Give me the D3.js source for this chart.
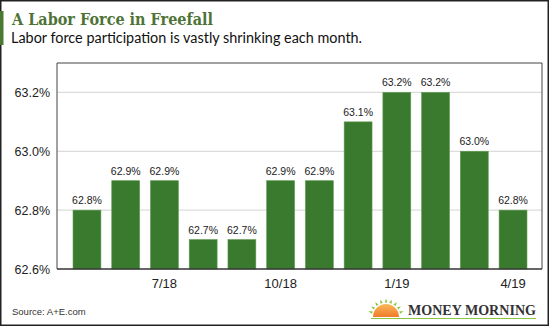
<!DOCTYPE html>
<html><head><meta charset="utf-8">
<script src="https://cdn.jsdelivr.net/npm/d3@7/dist/d3.min.js"></script>
<style>
html,body{margin:0;padding:0;background:#fff;}
svg{display:block;}
</style></head>
<body>
<svg id="c" width="550" height="327"></svg>
<script>
const categories = ["5/18","6/18","7/18","8/18","9/18","10/18","11/18","12/18","1/19","2/19","3/19","4/19"];
const values = [62.8,62.9,62.9,62.7,62.7,62.9,62.9,63.1,63.2,63.2,63.0,62.8];
const tickLabels = ["","","7/18","","","10/18","","","1/19","","","4/19"];
const yTicks = [62.6,62.8,63.0,63.2];
const title = "A Labor Force in Freefall";
const subtitle = "Labor force participation is vastly shrinking each month.";
const source = "Source: A+E.com";

const svg = d3.select("#c");
const W = 550, H = 327;
const plot = {l:57, r:542, t:63, b:269};

// outer border
svg.append("rect").attr("x",0.75).attr("y",0.75).attr("width",W-2.5).attr("height",H-2.5)
  .attr("fill","#fff").attr("stroke","#222").attr("stroke-width",1.5);

// accent bar
svg.append("rect").attr("x",0).attr("y",11).attr("width",3.5).attr("height",34).attr("fill","#4a7a32");

svg.append("text").attr("x",12).attr("y",25).text(title)
  .attr("font-family","'DejaVu Serif', serif").attr("font-weight","bold").attr("font-size",16)
  .attr("fill","#4e7336").attr("textLength",201).attr("lengthAdjust","spacingAndGlyphs");
svg.append("text").attr("x",11).attr("y",43).text(subtitle)
  .attr("font-family","Lato, 'Open Sans', sans-serif").attr("font-size",14.5)
  .attr("fill","#111").attr("textLength",351).attr("lengthAdjust","spacingAndGlyphs");

const x = d3.scaleBand().domain(categories).range([67.6,532.4]).paddingInner(0.28).paddingOuter(0.14);
const y = d3.scaleLinear().domain([62.6,63.3]).range([plot.b, plot.t]);

// gridlines
svg.append("g").selectAll("line").data(yTicks.slice(1)).join("line")
  .attr("x1",plot.l).attr("x2",plot.r).attr("y1",d=>y(d)).attr("y2",d=>y(d))
  .attr("stroke","#dcdcdc").attr("stroke-width",1.2);

// frame
svg.append("path").attr("d",`M${plot.l},${plot.b}V${plot.t}H${plot.r}V${plot.b}`)
  .attr("fill","none").attr("stroke","#444").attr("stroke-width",1);

// bars
svg.append("g").selectAll("rect").data(values).join("rect")
  .attr("x",(d,i)=>x(categories[i])).attr("width",x.bandwidth())
  .attr("y",d=>y(d)).attr("height",d=>plot.b-y(d))
  .attr("fill","#3a7a2f").attr("stroke","#5e9a4e").attr("stroke-width",0.6);

// bar labels
svg.append("g").selectAll("text").data(values).join("text")
  .attr("x",(d,i)=>x(categories[i])+x.bandwidth()/2).attr("y",d=>y(d)-6)
  .attr("text-anchor","middle").attr("font-family","'Liberation Sans', Arial, sans-serif")
  .attr("font-size",10.5).attr("fill","#222").text(d=>d.toFixed(1)+"%");

// y axis
const yAxis = d3.axisLeft(y).tickValues(yTicks).tickSize(0).tickPadding(7).tickFormat(d=>d.toFixed(1)+"%");
const gy = svg.append("g").attr("transform",`translate(${plot.l},0)`).call(yAxis);
gy.select(".domain").remove();
gy.selectAll("text").attr("font-family","'Liberation Sans', Arial, sans-serif").attr("font-size",12.5).attr("fill","#222").attr("dy","0.35em");

// x axis
const xAxis = d3.axisBottom(x).tickSize(0).tickPadding(10).tickFormat((d,i)=>tickLabels[i]);
const gx = svg.append("g").attr("transform",`translate(0,${plot.b})`).call(xAxis);
gx.select(".domain").remove();
gx.selectAll("text").attr("font-family","'Liberation Sans', Arial, sans-serif").attr("font-size",13).attr("fill","#222");
svg.append("line").attr("x1",plot.l).attr("x2",plot.r).attr("y1",plot.b).attr("y2",plot.b).attr("stroke","#333").attr("stroke-width",1.5);

// source
svg.append("text").attr("x",12).attr("y",315).text(source)
  .attr("font-family","'Liberation Sans', Arial, sans-serif").attr("font-size",9.5).attr("fill","#333");

// logo
const defs = svg.append("defs");
const grad = defs.append("linearGradient").attr("id","sun").attr("x1",0).attr("y1",0).attr("x2",0).attr("y2",1);
grad.append("stop").attr("offset","0%").attr("stop-color","#fbb85a");
grad.append("stop").attr("offset","100%").attr("stop-color","#f07c2a");
const logo = svg.append("g");
const cx = 386, cy = 317;
logo.append("path").attr("d",`M${cx-13},${cy} A13,13 0 0 1 ${cx+13},${cy} Z`).attr("fill","url(#sun)");
const rays = d3.range(9).map(i=>Math.PI*(0.1+0.8*i/8));
logo.selectAll("path.ray").data(rays).join("path").attr("class","ray")
  .attr("d",a=>{const r1=14.5,r2=18.5,w=0.09;
    const p=(r,t)=>[cx-Math.cos(t)*r, cy-Math.sin(t)*r];
    const [ax,ay]=p(r1,a-w),[bx,by]=p(r1,a+w),[tx,ty]=p(r2,a);
    return `M${ax},${ay}L${tx},${ty}L${bx},${by}Z`;})
  .attr("fill","#8cc63f");
logo.append("text").attr("x",408).attr("y",315).text("MONEY MORNING")
  .attr("font-family","'Liberation Serif', serif").attr("font-weight","bold").attr("font-size",14)
  .attr("fill","#333").attr("textLength",128).attr("lengthAdjust","spacingAndGlyphs");
logo.append("line").attr("x1",371).attr("x2",536).attr("y1",318.5).attr("y2",318.5).attr("stroke","#8cc63f").attr("stroke-width",1.2);
</script>
</body></html>
